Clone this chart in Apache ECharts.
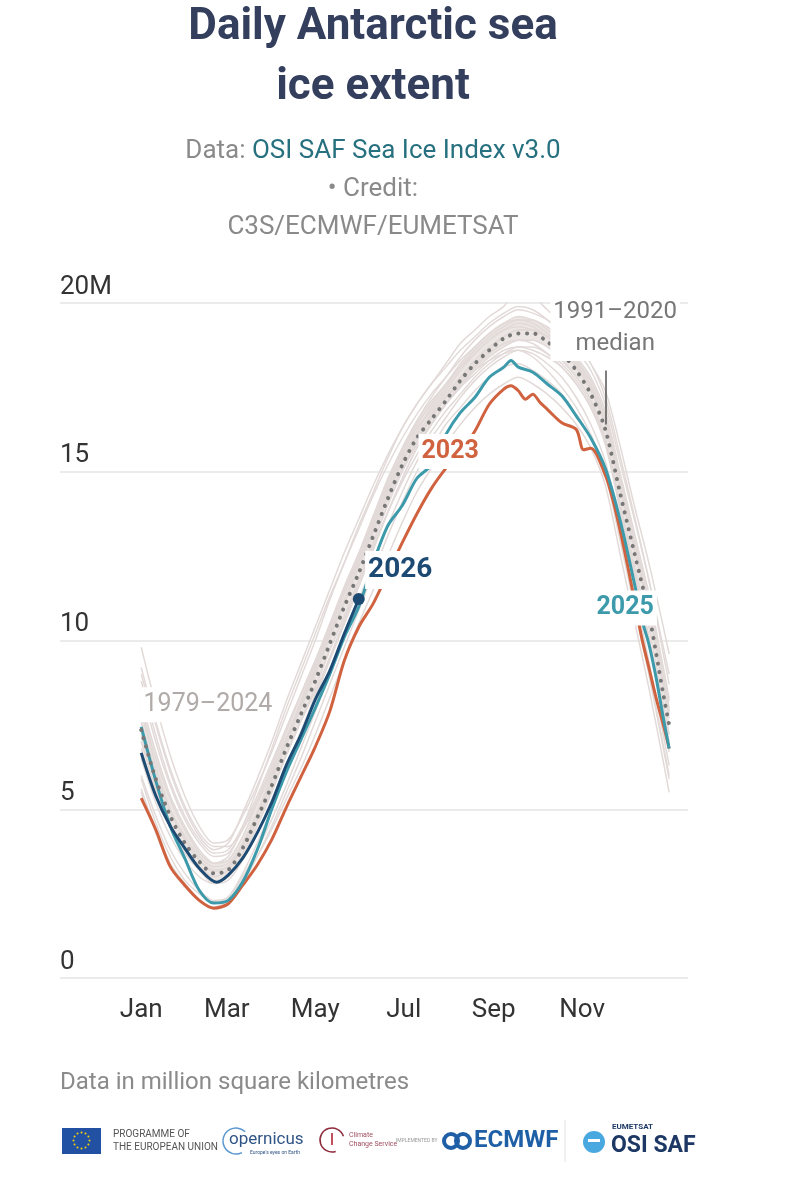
<!DOCTYPE html>
<html>
<head>
<meta charset="utf-8">
<title>Daily Antarctic sea ice extent</title>
<script src="https://cdn.jsdelivr.net/npm/echarts@6/dist/echarts.min.js"></script>
<style>
  html, body { margin: 0; padding: 0; background: #fff; }
  #main { width: 801px; height: 1200px; }
</style>
</head>
<body>
<div id="main"></div>
<script>
// day of year (0 = 1 Jan), shared by the grey years and the median
const DAYS = [0, 10, 20, 30, 40, 50, 60, 70, 80, 90, 100, 110, 120, 130, 140, 150, 160, 170, 180,
  190, 200, 210, 220, 230, 240, 250, 260, 270, 280, 290, 300, 310, 320, 330, 340, 350, 360, 364];

const MONTH_DAYS = [0, 59, 120, 181, 243, 304];
const MONTH_LABELS = ['Jan', 'Mar', 'May', 'Jul', 'Sep', 'Nov'];

// 1991-2020 median, million km2
const median = [7.35, 5.9, 4.8, 4.0, 3.45, 3.1, 3.2, 3.85, 4.75, 5.7, 6.8, 7.8, 8.8, 9.9, 11.0, 12.0,
  13.1, 14.2, 15.2, 16.0, 16.55, 17.1, 17.7, 18.2, 18.6, 18.95, 19.1, 19.1, 18.85, 18.5, 18.0, 17.3,
  16.25, 14.4, 12.6, 10.8, 8.4, 7.5];

// 1979-2024, a sample of the grey lines
const pastYears = [
  [9.8, 8.1, 6.6, 5.4, 4.5, 4.0, 4.1, 4.8, 5.7, 6.7, 7.8, 8.9, 10.0, 11.2, 12.3, 13.4, 14.4, 15.4, 16.3, 17.0, 17.6, 18.2, 18.8, 19.2, 19.6, 19.9, 20.4, 20.2, 19.8, 19.4, 18.9, 18.2, 17.4, 15.8, 14.0, 12.3, 10.4, 9.6],
  [9.0, 7.5, 6.1, 5.0, 4.2, 3.8, 4.0, 4.9, 5.9, 7.0, 8.2, 9.3, 10.4, 11.5, 12.6, 13.6, 14.6, 15.5, 16.3, 17.0, 17.6, 18.1, 18.6, 19.0, 19.4, 19.7, 19.9, 19.8, 19.5, 19.1, 18.6, 18.0, 17.0, 15.3, 13.6, 11.8, 9.8, 9.0],
  [8.2, 6.7, 5.4, 4.5, 3.8, 3.4, 3.5, 4.2, 5.2, 6.2, 7.3, 8.4, 9.4, 10.5, 11.6, 12.6, 13.7, 14.8, 15.7, 16.5, 17.1, 17.6, 18.2, 18.7, 19.1, 19.4, 19.6, 19.5, 19.3, 18.9, 18.4, 17.8, 16.8, 15.0, 13.2, 11.4, 9.2, 8.3],
  [7.6, 6.1, 5.0, 4.2, 3.6, 3.3, 3.4, 4.0, 4.9, 5.9, 7.0, 8.0, 9.1, 10.2, 11.2, 12.3, 13.4, 14.5, 15.5, 16.3, 16.8, 17.4, 18.0, 18.5, 18.9, 19.2, 19.4, 19.3, 19.0, 18.7, 18.2, 17.5, 16.5, 14.7, 12.9, 11.0, 8.8, 7.9],
  [7.0, 5.6, 4.5, 3.7, 3.2, 2.9, 3.0, 3.6, 4.5, 5.5, 6.6, 7.6, 8.6, 9.7, 10.7, 11.8, 12.9, 14.0, 15.0, 15.8, 16.4, 17.0, 17.5, 18.0, 18.4, 18.7, 18.9, 18.9, 18.7, 18.3, 17.8, 17.1, 16.0, 14.1, 12.2, 10.4, 8.1, 7.2],
  [6.8, 5.5, 4.5, 3.8, 3.3, 3.0, 3.2, 3.9, 4.9, 6.0, 7.1, 8.2, 9.3, 10.4, 11.5, 12.5, 13.5, 14.5, 15.4, 16.2, 16.9, 17.5, 18.1, 18.5, 18.9, 19.2, 19.3, 19.2, 19.0, 18.8, 18.3, 17.7, 16.7, 14.9, 13.0, 11.2, 9.0, 8.2],
  [7.9, 6.3, 5.0, 4.1, 3.5, 3.2, 3.3, 3.9, 4.7, 5.6, 6.6, 7.6, 8.5, 9.5, 10.5, 11.6, 12.7, 13.8, 14.8, 15.7, 16.4, 17.0, 17.5, 17.9, 18.3, 18.6, 18.7, 18.6, 18.4, 18.1, 17.6, 16.9, 15.8, 13.9, 12.0, 10.1, 7.8, 6.9],
  [8.6, 7.0, 5.7, 4.7, 4.0, 3.6, 3.7, 4.4, 5.3, 6.3, 7.4, 8.4, 9.4, 10.4, 11.4, 12.4, 13.5, 14.6, 15.6, 16.4, 17.0, 17.6, 18.1, 18.6, 19.0, 19.3, 19.5, 19.5, 19.2, 18.8, 18.3, 17.6, 16.6, 14.8, 12.9, 11.0, 8.9, 8.0],
  [6.0, 4.8, 3.8, 3.1, 2.6, 2.3, 2.4, 3.0, 3.8, 4.7, 5.7, 6.8, 7.9, 9.0, 10.1, 11.2, 12.3, 13.4, 14.4, 15.3, 16.0, 16.6, 17.2, 17.7, 18.1, 18.4, 18.6, 18.5, 18.2, 17.8, 17.2, 16.4, 15.3, 13.4, 11.4, 9.4, 7.2, 6.3],
  [5.6, 4.4, 3.4, 2.8, 2.3, 2.05, 2.2, 2.8, 3.6, 4.5, 5.5, 6.5, 7.6, 8.7, 9.8, 10.9, 12.0, 13.1, 14.1, 15.0, 15.7, 16.4, 16.9, 17.4, 17.8, 18.1, 18.2, 18.0, 17.7, 17.3, 16.7, 16.0, 14.9, 13.0, 11.0, 9.0, 6.8, 5.9],
  [5.5, 4.3, 3.3, 2.7, 2.3, 2.1, 2.3, 2.9, 3.6, 4.4, 5.3, 6.2, 7.2, 8.3, 9.4, 10.5, 11.5, 12.5, 13.5, 14.4, 15.1, 15.8, 16.4, 16.9, 17.3, 17.6, 17.8, 17.6, 17.3, 16.9, 16.4, 15.7, 14.6, 12.6, 10.6, 8.6, 6.4, 5.5],
  [9.2, 7.6, 6.2, 5.1, 4.3, 3.9, 3.9, 4.4, 5.2, 6.1, 7.1, 8.1, 9.1, 10.2, 11.2, 12.2, 13.2, 14.2, 15.1, 15.9, 16.6, 17.2, 17.7, 18.2, 18.6, 19.0, 19.2, 19.2, 19.0, 18.6, 18.1, 17.4, 16.4, 14.6, 12.7, 10.9, 8.7, 7.8],
  [8.8, 7.2, 5.8, 4.8, 4.1, 3.7, 3.8, 4.5, 5.4, 6.4, 7.4, 8.4, 9.4, 10.4, 11.4, 12.4, 13.4, 14.4, 15.3, 16.0, 16.6, 17.2, 17.6, 18.0, 18.3, 18.5, 18.6, 18.4, 18.0, 17.5, 16.9, 16.1, 15.0, 13.1, 11.1, 9.1, 6.9, 6.0],
  [6.5, 5.2, 4.2, 3.5, 3.0, 2.8, 3.0, 3.7, 4.7, 5.8, 7.0, 8.1, 9.2, 10.3, 11.4, 12.5, 13.6, 14.7, 15.7, 16.5, 17.2, 17.8, 18.4, 18.9, 19.3, 19.6, 19.8, 19.7, 19.5, 19.2, 18.8, 18.2, 17.2, 15.5, 13.7, 11.8, 9.6, 8.7],
  [7.4, 6.0, 4.9, 4.1, 3.5, 3.15, 3.3, 4.0, 4.9, 5.9, 6.9, 8.0, 9.0, 10.1, 11.1, 12.2, 13.3, 14.3, 15.3, 16.1, 16.7, 17.3, 17.8, 18.3, 18.7, 19.0, 19.2, 19.2, 19.0, 18.6, 18.1, 17.4, 16.4, 14.5, 12.7, 10.9, 8.6, 7.7],
  [8.0, 6.5, 5.3, 4.4, 3.7, 3.4, 3.6, 4.5, 5.6, 6.8, 8.0, 9.1, 10.2, 11.3, 12.3, 13.3, 14.3, 15.2, 16.0, 16.7, 17.3, 17.8, 18.3, 18.7, 19.1, 19.4, 19.5, 19.4, 19.1, 18.7, 18.2, 17.5, 16.5, 14.7, 12.8, 11.0, 8.8, 7.9],
  [7.2, 5.8, 4.6, 3.8, 3.2, 2.8, 2.9, 3.5, 4.3, 5.3, 6.3, 7.3, 8.4, 9.5, 10.6, 11.7, 12.8, 13.8, 14.7, 15.5, 16.2, 16.8, 17.3, 17.8, 18.2, 18.5, 18.7, 18.7, 18.5, 18.2, 17.7, 17.0, 15.9, 14.0, 12.0, 10.0, 7.7, 6.7],
  [5.9, 4.6, 3.6, 2.9, 2.5, 2.25, 2.4, 3.1, 4.0, 5.0, 6.1, 7.2, 8.3, 9.4, 10.5, 11.6, 12.7, 13.8, 14.8, 15.7, 16.4, 17.0, 17.6, 18.1, 18.5, 18.8, 18.9, 18.8, 18.5, 18.1, 17.6, 16.9, 15.9, 14.0, 12.1, 10.1, 7.9, 7.0]
];

const days2023 = [0, 10, 20, 30, 40, 50, 60, 70, 80, 90, 100, 110, 120, 130, 140, 150, 160, 170, 180, 190,
  200, 210, 220, 230, 240, 250, 255, 260, 265, 270, 275, 280, 290, 300, 305, 310, 320, 325, 330, 335,
  340, 345, 350, 355, 360, 364];
const ice2023 = [5.33, 4.4, 3.3, 2.75, 2.3, 2.07, 2.2, 2.75, 3.35, 4.1, 5.05, 5.95, 6.85, 7.9, 9.4, 10.4,
  11.1, 12.0, 12.9, 13.75, 14.5, 15.1, 15.6, 16.2, 17.0, 17.45, 17.55, 17.4, 17.15, 17.3, 17.05, 16.85,
  16.45, 16.25, 15.65, 15.7, 14.9, 14.2, 13.3, 12.3, 11.2, 10.1, 9.2, 8.3, 7.5, 6.8];

const days2025 = [0, 10, 20, 30, 40, 50, 60, 70, 80, 90, 100, 110, 120, 130, 140, 150, 160, 170, 180, 190,
  200, 210, 220, 230, 240, 250, 255, 260, 270, 280, 290, 300, 310, 320, 330, 340, 346, 350, 355, 360, 364];
const ice2025 = [7.44, 5.85, 4.5, 3.55, 2.6, 2.22, 2.3, 2.85, 3.8, 5.0, 6.1, 7.05, 8.0, 9.0, 10.1, 11.0,
  12.3, 13.4, 14.0, 14.8, 15.2, 16.1, 16.75, 17.2, 17.8, 18.1, 18.3, 18.1, 17.95, 17.6, 17.25, 16.65,
  16.0, 15.1, 13.6, 11.7, 10.5, 9.9, 8.9, 7.7, 6.8];

const days2026 = [0, 10, 20, 30, 40, 52, 60, 70, 80, 90, 100, 110, 120, 130, 140, 150];
const ice2026 = [6.67, 5.4, 4.5, 3.85, 3.25, 2.84, 3.05, 3.55, 4.3, 5.2, 6.3, 7.2, 8.25, 9.1, 10.2, 11.23];

const C_GREY = '#e2dad8';
const C_CORE = '#ebe5e3';
const C_MEDIAN = '#777777';
const C_2023 = '#d0623f';
const C_2025 = '#3c9aab';
const C_2026 = '#1c4a73';
const FONT = 'Roboto, "Noto Sans", sans-serif';

const pair = (xs, ys) => ys.map((v, i) => [xs[i], v]);

function tag(text, coord, color, size, weight) {
  return {
    coord: coord,
    symbol: 'circle',
    symbolSize: 1,
    itemStyle: { color: 'rgba(0,0,0,0)' },
    label: {
      show: true, position: 'inside', formatter: text, color: color,
      fontSize: size, fontWeight: weight, fontFamily: FONT,
      backgroundColor: '#fff', padding: [1, 3], lineHeight: size + 8
    }
  };
}

// dense middle of the grey band, filled between two of the sampled years
const coreLow = pastYears[4];
const coreHigh = pastYears[2];
const series = [{
  type: 'custom',
  name: 'core',
  silent: true,
  z: 0,
  data: DAYS.map((d, i) => [d, coreLow[i], coreHigh[i]]),
  renderItem: (params, api) => {
    if (params.dataIndex !== 0) return null;
    const top = DAYS.map((d, i) => api.coord([d, coreHigh[i]]));
    const bottom = DAYS.map((d, i) => api.coord([d, coreLow[i]])).reverse();
    return {
      type: 'polygon',
      shape: { points: top.concat(bottom) },
      style: { fill: C_CORE }
    };
  }
}];

pastYears.forEach((vals, i) => series.push({
  type: 'line',
  name: 'past' + i,
  data: pair(DAYS, vals),
  showSymbol: false,
  smooth: 0.3,
  silent: true,
  z: 1,
  lineStyle: { color: C_GREY, width: 1.5 }
}));

series.push({
  type: 'line',
  name: '1979–2024',
  data: [],
  silent: true,
  markPoint: { z: 20, silent: true, data: [tag('1979–2024', [46, 8.1], '#b0aaa8', 25, 'normal')] }
});

series.push({
  type: 'line',
  name: '2023',
  data: pair(days2023, ice2023),
  showSymbol: false,
  smooth: 0.3,
  z: 3,
  lineStyle: { color: C_2023, width: 3 },
  markPoint: { z: 20, silent: true, data: [tag('2023', [213, 15.6], C_2023, 25, 'bold')] }
});

series.push({
  type: 'line',
  name: '2025',
  data: pair(days2025, ice2025),
  showSymbol: false,
  smooth: 0.3,
  z: 3,
  lineStyle: { color: C_2025, width: 3 },
  markPoint: { z: 20, silent: true, data: [tag('2025', [333.7, 10.96], C_2025, 25, 'bold')] }
});

series.push({
  type: 'line',
  name: '1991–2020 median',
  data: pair(DAYS, median),
  showSymbol: false,
  smooth: 0.3,
  z: 4,
  lineStyle: { color: C_MEDIAN, width: 4, type: [0.1, 8.5], cap: 'round' },
  markLine: {
    silent: true,
    symbol: 'none',
    label: { show: false },
    lineStyle: { color: '#555', width: 1.5, type: 'solid' },
    data: [[{ coord: [320.6, 18.0] }, { coord: [320.6, 16.4] }]]
  },
  markPoint: { z: 20, silent: true, data: [tag('1991–2020\nmedian', [326.8, 19.26], '#777', 24, 'normal')] }
});

series.push({
  type: 'line',
  name: '2026',
  data: pair(days2026, ice2026),
  showSymbol: false,
  smooth: 0.3,
  z: 5,
  lineStyle: { color: C_2026, width: 3 },
  markPoint: {
    z: 21,
    silent: true,
    data: [
      {
        coord: [days2026[days2026.length - 1], ice2026[ice2026.length - 1]],
        symbol: 'circle', symbolSize: 12, itemStyle: { color: C_2026 }, label: { show: false }
      },
      tag('2026', [178.6, 12.09], C_2026, 28, 'bold')
    ]
  }
});

// EU flag stars
const stars = [];
for (let k = 0; k < 12; k++) {
  const a = k * Math.PI / 6;
  stars.push({
    type: 'circle',
    shape: { cx: 81.5 + 8 * Math.cos(a), cy: 1140.5 + 8 * Math.sin(a), r: 1 },
    style: { fill: '#f5d200' }
  });
}

const chart = echarts.init(document.getElementById('main'));
chart.setOption({
  animation: false,
  backgroundColor: '#fff',
  textStyle: { fontFamily: FONT },
  title: [
    {
      text: 'Daily Antarctic sea\nice extent',
      left: 373, top: -2, textAlign: 'center', padding: 0,
      textStyle: { fontSize: 44, fontWeight: 'bold', color: '#343f5e', lineHeight: 60, fontFamily: FONT }
    },
    {
      text: '{g|Data: }{b|OSI SAF Sea Ice Index v3.0}\n{g|• Credit:}\n{g|C3S/ECMWF/EUMETSAT}',
      left: 373, top: 132, textAlign: 'center', padding: 0,
      textStyle: {
        fontFamily: FONT,
        fontWeight: 'normal',
        rich: {
          g: { fontSize: 26, fontWeight: 'normal', color: '#8a8a8a', lineHeight: 38, fontFamily: FONT },
          b: { fontSize: 26, fontWeight: 'normal', color: '#26707f', lineHeight: 38, fontFamily: FONT }
        }
      }
    },
    {
      text: 'Data in million square kilometres',
      left: 60, top: 1069, padding: 0,
      textStyle: { fontSize: 24, fontWeight: 'normal', color: '#8a8a8a', lineHeight: 28, fontFamily: FONT }
    }
  ],
  grid: { left: 60, right: 113, top: 303, bottom: 222, containLabel: false, outerBoundsMode: 'none' },
  xAxis: {
    type: 'value',
    min: -56,
    max: 377,
    axisLine: { show: false },
    axisTick: { show: false },
    splitLine: { show: false },
    axisLabel: {
      customValues: MONTH_DAYS,
      formatter: v => MONTH_LABELS[MONTH_DAYS.indexOf(v)],
      fontSize: 26, color: '#333', margin: 19, fontFamily: FONT
    }
  },
  yAxis: {
    type: 'value',
    min: 0,
    max: 20,
    interval: 5,
    axisLine: { show: false },
    axisTick: { show: false },
    splitLine: { lineStyle: { color: '#e4e4e4', width: 1.5 } },
    axisLabel: {
      inside: true, verticalAlign: 'bottom', align: 'left', margin: 0, padding: [0, 0, 3, 0],
      fontSize: 26, color: '#333', fontFamily: FONT,
      formatter: v => (v === 20 ? '20M' : String(v))
    }
  },
  series: series,
  graphic: [
    { type: 'rect', shape: { x: 62, y: 1128, width: 39, height: 26 }, style: { fill: '#2250a3' } },
    ...stars,
    { type: 'text', x: 113, y: 1141, style: { text: 'PROGRAMME OF\nTHE EUROPEAN UNION', fontSize: 10, lineHeight: 13, fill: '#555', verticalAlign: 'middle', fontFamily: FONT } },
    { type: 'arc', shape: { cx: 236, cy: 1141, r: 13, startAngle: Math.PI * 0.35, endAngle: Math.PI * 1.75 }, style: { stroke: '#5a97d0', lineWidth: 1.5, fill: 'none' } },
    { type: 'text', x: 229, y: 1140, style: { text: 'opernicus', fontSize: 17, fill: '#2f5586', verticalAlign: 'middle', fontFamily: FONT } },
    { type: 'text', x: 250, y: 1153, style: { text: "Europe's eyes on Earth", fontSize: 5, fill: '#2f5586', verticalAlign: 'middle', fontFamily: FONT } },
    { type: 'arc', shape: { cx: 332, cy: 1140, r: 12, startAngle: Math.PI * 0.4, endAngle: Math.PI * 1.9 }, style: { stroke: '#8c2a3a', lineWidth: 1.5, fill: 'none' } },
    { type: 'rect', shape: { x: 331, y: 1133, width: 2, height: 12 }, style: { fill: '#c05060' } },
    { type: 'text', x: 349, y: 1140, style: { text: 'Climate\nChange Service', fontSize: 7, lineHeight: 9, fill: '#a05060', verticalAlign: 'middle', fontFamily: FONT } },
    { type: 'text', x: 396, y: 1141, style: { text: 'IMPLEMENTED BY', fontSize: 5, fill: '#999', verticalAlign: 'middle', fontFamily: FONT } },
    { type: 'circle', shape: { cx: 451, cy: 1141, r: 7 }, style: { stroke: '#1f5fa6', lineWidth: 4, fill: 'none' } },
    { type: 'circle', shape: { cx: 463, cy: 1141, r: 7 }, style: { stroke: '#1f5fa6', lineWidth: 4, fill: 'none' } },
    { type: 'text', x: 474, y: 1141, style: { text: 'ECMWF', fontSize: 24, fontWeight: 'bold', fill: '#1f5fa6', verticalAlign: 'middle', fontFamily: FONT } },
    { type: 'line', shape: { x1: 565, y1: 1120, x2: 565, y2: 1162 }, style: { stroke: '#e2e2e2', lineWidth: 1 } },
    { type: 'circle', shape: { cx: 594, cy: 1142, r: 11 }, style: { fill: '#4aa8e0' } },
    { type: 'rect', shape: { x: 588, y: 1139, width: 12, height: 3 }, style: { fill: '#fff' } },
    { type: 'text', x: 612, y: 1127, style: { text: 'EUMETSAT', fontSize: 8, fontWeight: 'bold', fill: '#1d3864', verticalAlign: 'middle', fontFamily: FONT } },
    { type: 'text', x: 611, y: 1146, style: { text: 'OSI SAF', fontSize: 23, fontWeight: 'bold', fill: '#1d3864', verticalAlign: 'middle', fontFamily: FONT } }
  ]
});
</script>
</body>
</html>
